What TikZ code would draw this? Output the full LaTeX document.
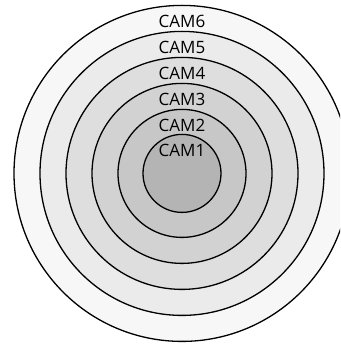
\documentclass[tikz,border=0pt]{standalone}
\usepackage{fontspec}
\setmainfont{Open Sans}
\usetikzlibrary{positioning}

\tikzset{
  ring/.style={draw=black, line width=1.3pt},
  camlabel/.style={font=\fontsize{17}{20}\selectfont, anchor=base, inner sep=0pt}
}

\begin{document}
\begin{tikzpicture}[x=1pt,y=1pt]
		% Fix the viewing box to the crop of the figure
		\useasboundingbox (-182,-171.6) rectangle (158,173.4);
		\clip (-182,-171.6) rectangle (158,173.4);
		
		\coordinate (O) at (0,0);
		
		% Nested rings, outermost first, each one a bit darker
		\foreach \r/\shade/\name in {168/97/CAM6, 142/92/CAM5, 116/87/CAM4, 90/82.5/CAM3, 64/78/CAM2, 39/70.5/CAM1} {
			\filldraw[ring, fill=white!\shade!black] (O) circle (\r);
			\node[camlabel] (\name) at (0,\r-22) {\name};
		}
		
	\end{tikzpicture}
\end{document}
